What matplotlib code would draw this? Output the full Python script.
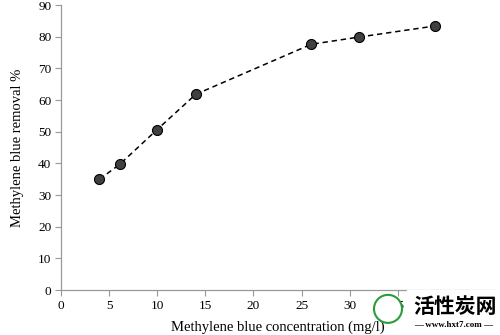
import matplotlib

matplotlib.use("Agg")
import matplotlib.pyplot as plt
from matplotlib.patches import Ellipse

# values
concentration = [4, 6.1, 10, 14, 26, 31, 38.9]
removal = [35, 39.7, 50.7, 61.8, 77.6, 79.9, 83.4]
x_ticks = [0, 5, 10, 15, 20, 25, 30, 35, 40, 45]
y_ticks = [0, 10, 20, 30, 40, 50, 60, 70, 80, 90]

plt.rcParams["font.family"] = ["Liberation Serif", "DejaVu Serif"]

fig = plt.figure(figsize=(5, 3.35), dpi=100)
ax = fig.add_axes([0.122, 0.134, 0.866, 0.851])

ax.plot(concentration, removal, linestyle="--", color="black", linewidth=1.1,
        dashes=(3.5, 2.5), marker="o", markersize=7.2,
        markerfacecolor="#404040", markeredgecolor="black", markeredgewidth=0.8)

ax.set_xlim(0, 45)
ax.set_ylim(0, 90)
ax.set_xticks(x_ticks)
ax.set_yticks(y_ticks)
ax.tick_params(direction="out", length=4, color="#999999", labelsize=9.5, pad=3)
for side in ("top", "right"):
    ax.spines[side].set_visible(False)
for side in ("left", "bottom"):
    ax.spines[side].set_color("#999999")
    ax.spines[side].set_linewidth(0.9)

ax.set_xlabel("Methylene blue concentration (mg/l)", fontsize=10.5, labelpad=6)
ax.set_ylabel("Methylene blue removal %", fontsize=10.5, labelpad=10)

# watermark in the lower right corner
fig.patches.append(Ellipse((0.776, 0.078), 28 / 500, 28 / 335, transform=fig.transFigure,
                           facecolor="white", edgecolor="#2a9d3a", linewidth=1.5, zorder=5))
fig.text(0.826, 0.085, "活性炭网", family=["Noto Sans CJK SC", "DejaVu Sans"],
         fontsize=15, fontweight="bold", color="black", va="center", ha="left",
         backgroundcolor="white", zorder=5)
fig.text(0.908, 0.03, "— www.hxt7.com —", fontsize=6.5, fontweight="bold",
         color="black", va="center", ha="center", zorder=5)

fig.savefig("out.png", dpi=100)
